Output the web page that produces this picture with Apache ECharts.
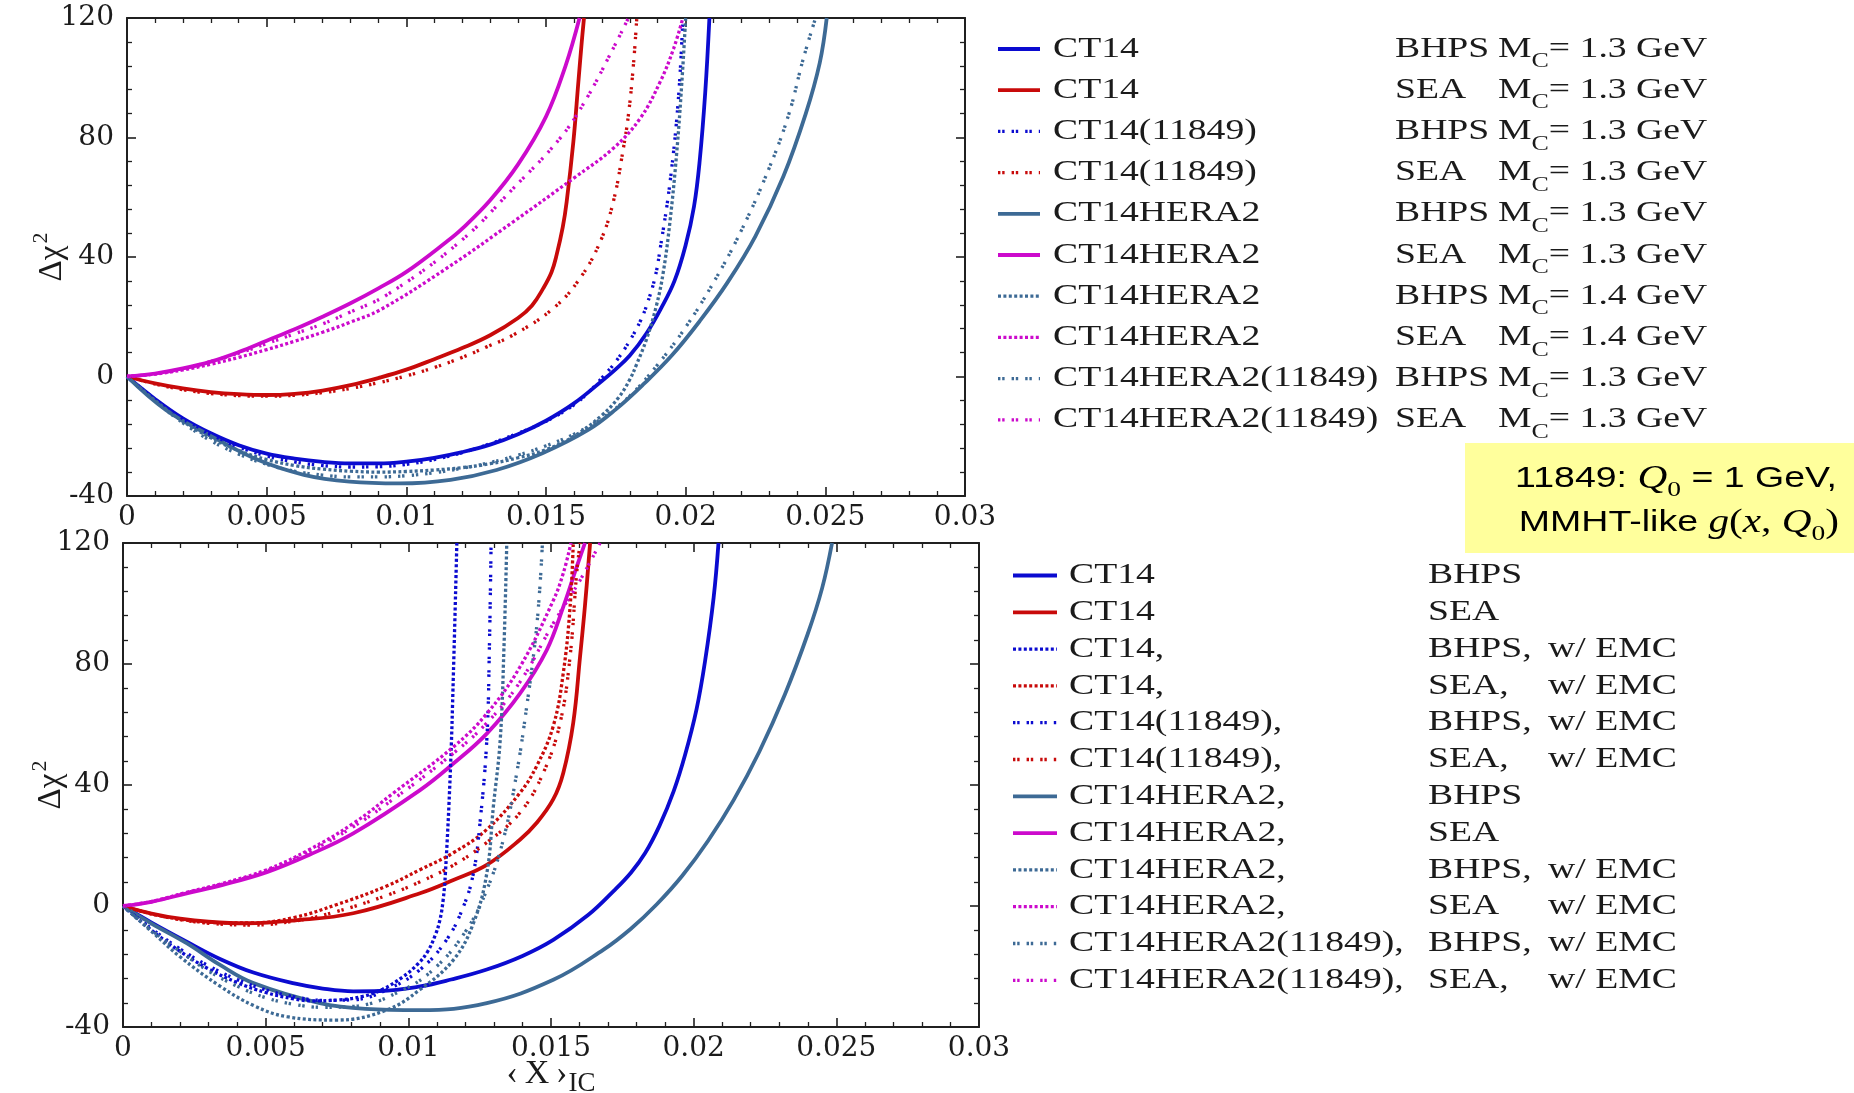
<!DOCTYPE html>
<html>
<head>
<meta charset="utf-8">
<script src="https://cdn.jsdelivr.net/npm/echarts@6/dist/echarts.min.js"></script>
<style>
  html, body { margin: 0; padding: 0; background: #ffffff; }
  #chart { width: 1854px; height: 1093px; }
</style>
</head>
<body>
<div id="chart"></div>
<script>
// ---------------- axis ranges and tick labels ----------------
const xTickValues = [0, 0.005, 0.01, 0.015, 0.02, 0.025, 0.03];
const yTickValues = [-40, 0, 40, 80, 120];

// ---------------- upper panel: Δχ² versus <x>_IC ----------------
const upCt14Bhps13 = [[0,0],[0.001,-7.5],[0.002,-14],[0.003,-19],[0.004,-23],[0.005,-25.8],[0.006,-27.5],[0.007,-28.6],[0.008,-29.1],[0.009,-29.1],[0.010,-28.5],[0.011,-27.2],[0.012,-25.3],[0.013,-22.8],[0.014,-19.3],[0.015,-14.8],[0.016,-9],[0.017,-1.5],[0.0175,2.5],[0.018,7],[0.0186,14.5],[0.0191,22.5],[0.0196,32],[0.0200,44],[0.0203,57],[0.0205,72],[0.0207,95],[0.02085,120]];
const upCt14Sea13 = [[0,0],[0.001,-2.3],[0.002,-4],[0.003,-5.2],[0.004,-5.9],[0.005,-6.2],[0.006,-5.8],[0.007,-4.7],[0.008,-2.9],[0.009,-0.5],[0.010,2.3],[0.011,5.8],[0.012,9.5],[0.013,13.8],[0.014,19.6],[0.0145,23.8],[0.0149,29.5],[0.0152,35],[0.01538,40.7],[0.0156,50],[0.01574,58.5],[0.01598,78.6],[0.01616,98.7],[0.01628,112],[0.01636,120]];
const upCt14q1Bhps13 = [[0,0],[0.001,-7.6],[0.002,-14.3],[0.003,-19.5],[0.004,-23.6],[0.005,-26.6],[0.006,-28.6],[0.007,-29.8],[0.008,-30.3],[0.009,-30.2],[0.010,-29.4],[0.011,-27.8],[0.012,-25.5],[0.013,-22.5],[0.014,-19],[0.015,-15],[0.016,-9.5],[0.0165,-5.5],[0.017,-0.5],[0.0175,5],[0.018,12],[0.0184,19],[0.01861,24],[0.0189,33],[0.01909,42.9],[0.01944,65],[0.01974,93],[0.0199,120]];
const upCt14q1Sea13 = [[0,0],[0.001,-2.5],[0.002,-4.4],[0.003,-5.7],[0.004,-6.4],[0.005,-6.6],[0.006,-6.3],[0.007,-5.4],[0.008,-4],[0.009,-2.1],[0.010,0.2],[0.011,3],[0.012,6.4],[0.0129,10],[0.01383,13.9],[0.01526,22.8],[0.01622,32.9],[0.01694,45.1],[0.01741,58.5],[0.01777,76.4],[0.01795,87.5],[0.01813,104.3],[0.01825,120]];
const upHera2Bhps13 = [[0,0],[0.00139,-11.2],[0.00304,-20.1],[0.00468,-27.9],[0.00633,-32.9],[0.00797,-35.2],[0.00977,-35.8],[0.01158,-34.6],[0.01323,-31.3],[0.01487,-25.7],[0.01651,-17.9],[0.0175,-11],[0.0185,-2.5],[0.0195,7],[0.0205,18.5],[0.0215,31.5],[0.0225,47],[0.0235,67],[0.0243,88],[0.0248,105],[0.02505,120]];
const upHera2Sea13 = [[0,0],[0.001,1],[0.002,2.7],[0.003,5],[0.004,8.2],[0.005,12],[0.006,15.8],[0.007,20],[0.008,24.5],[0.009,29.5],[0.010,35],[0.01144,45.1],[0.012,49.5],[0.013,59],[0.014,71],[0.015,87],[0.0157,104],[0.0162,120]];
const upHera2Bhps14 = [[0,0],[0.001,-8],[0.002,-15],[0.003,-20.5],[0.004,-24.8],[0.005,-27.8],[0.006,-29.8],[0.007,-31],[0.008,-31.7],[0.009,-32],[0.010,-31.8],[0.011,-31.3],[0.012,-30.5],[0.013,-29.2],[0.014,-27.2],[0.015,-24.5],[0.016,-20],[0.017,-13],[0.0176,-7],[0.018,-1],[0.01824,4],[0.0186,12.5],[0.01896,24],[0.0192,35],[0.01944,52],[0.01968,75],[0.01986,98],[0.02,120]];
const upHera2Sea14 = [[0,0],[0.001,0.8],[0.002,2.2],[0.003,4.1],[0.004,6.4],[0.005,9],[0.006,11.8],[0.007,14.8],[0.008,18.2],[0.00906,22.3],[0.01144,36.2],[0.01383,51.8],[0.01598,66.3],[0.01741,76.4],[0.01837,86.4],[0.01909,98.7],[0.01957,109.8],[0.0199,120]];
const upHera2q1Bhps13 = [[0,0],[0.001,-8.2],[0.002,-15.5],[0.003,-21.5],[0.004,-26],[0.005,-29.4],[0.006,-31.7],[0.007,-33],[0.008,-33.6],[0.009,-33.6],[0.010,-33.2],[0.011,-32.2],[0.012,-30.7],[0.013,-28.8],[0.014,-26.3],[0.015,-23.2],[0.016,-19.3],[0.017,-14],[0.018,-6.5],[0.019,4],[0.020,16.5],[0.021,31.5],[0.022,49],[0.023,70],[0.0237,88],[0.0242,106],[0.02465,120]];
const upHera2q1Sea13 = [[0,0],[0.001,0.9],[0.002,2.6],[0.003,5],[0.004,7.8],[0.005,11],[0.006,14.3],[0.007,17.6],[0.008,21.6],[0.0093,27.3],[0.01192,45.1],[0.01383,63],[0.0155,79.7],[0.01645,93],[0.01741,109.9],[0.01795,120]];

// ---------------- lower panel: with EMC correction ----------------
const loCt14Bhps = [[0,0],[0.001,-5.5],[0.00223,-11.8],[0.0034,-17.5],[0.00457,-22],[0.006,-25.6],[0.007,-27.3],[0.00807,-28.2],[0.009,-28.1],[0.01041,-26.6],[0.0115,-24.3],[0.01275,-21],[0.014,-16.5],[0.01508,-11.2],[0.0163,-3],[0.0172,5],[0.0178,11],[0.0183,17.5],[0.0188,26.5],[0.0193,38],[0.0197,50],[0.0201,65],[0.0204,81],[0.0207,102],[0.02087,120]];
const loCt14Sea = [[0,0],[0.001,-2.5],[0.002,-4.2],[0.003,-5.2],[0.00434,-5.7],[0.006,-4.8],[0.00807,-2.4],[0.01041,4.2],[0.01158,8.6],[0.01275,13.6],[0.01391,21.9],[0.0145,27.5],[0.01508,35.3],[0.01543,44],[0.01578,60.6],[0.01602,82.6],[0.01619,99.2],[0.01637,120]];
const loCt14EmcBhps = [[0,0],[0.001,-8],[0.002,-15],[0.003,-20.8],[0.004,-25.3],[0.005,-28.6],[0.006,-30.7],[0.0067,-31.4],[0.0076,-31],[0.0084,-29.9],[0.0091,-27.5],[0.0098,-23.5],[0.01035,-19],[0.01068,-15],[0.01095,-9.5],[0.01111,-4.5],[0.01122,2],[0.0113,10.9],[0.01147,43.9],[0.01158,76.9],[0.0117,120]];
const loCt14EmcSea = [[0,0],[0.001,-2.6],[0.002,-4.4],[0.003,-5.4],[0.0045,-5.6],[0.006,-3.8],[0.0075,0.5],[0.00924,6.6],[0.01041,12],[0.01158,17.6],[0.01275,25.3],[0.01391,37.4],[0.0145,46.3],[0.01508,59.5],[0.01543,77],[0.01567,99],[0.01578,120]];
const loCt14q1EmcBhps = [[0,0],[0.001,-7.5],[0.002,-14.2],[0.003,-19.8],[0.004,-24.3],[0.005,-27.7],[0.006,-30],[0.007,-31.2],[0.00807,-31],[0.00924,-27.7],[0.0104,-21.1],[0.01134,-11.2],[0.01193,-0.2],[0.01228,10.8],[0.01251,27.3],[0.01275,54.9],[0.01284,85],[0.0129,120]];
const loCt14q1EmcSea = [[0,0],[0.001,-2.6],[0.002,-4.5],[0.003,-5.7],[0.0045,-6.3],[0.006,-5],[0.0075,-1.8],[0.00924,3.5],[0.01041,8],[0.01158,13.5],[0.01275,21],[0.01391,30.8],[0.01473,44],[0.01532,60.6],[0.01567,82.6],[0.0159,110],[0.01602,120]];
const loHera2Bhps = [[0,0],[0.001,-5.8],[0.00223,-12.3],[0.0034,-19.5],[0.00457,-25.5],[0.0069,-32.1],[0.0085,-34],[0.01041,-34.4],[0.01275,-32.1],[0.01508,-24.4],[0.01683,-14.5],[0.0178,-7.5],[0.0187,0.5],[0.0196,10],[0.0205,21.5],[0.0214,35],[0.0223,51],[0.0232,70],[0.024,90],[0.0245,105],[0.02485,120]];
const loHera2Sea = [[0,0],[0.001,1.4],[0.00223,4.2],[0.0035,7],[0.00504,11.2],[0.0065,16.8],[0.00807,24],[0.01041,38.3],[0.01158,47.1],[0.01275,57],[0.01391,70.2],[0.01485,84.6],[0.01543,98.9],[0.0159,112.1],[0.01619,120]];
const loHera2EmcBhps = [[0,0],[0.00107,-9],[0.002,-16.8],[0.0034,-26.5],[0.0046,-33],[0.00574,-36.6],[0.00749,-37.7],[0.00924,-34.4],[0.0104,-27.7],[0.01158,-17.8],[0.01228,-5.7],[0.01275,10.8],[0.01298,32.9],[0.01322,54.9],[0.01335,85],[0.01345,120]];
const loHera2EmcSea = [[0,0],[0.001,1.5],[0.00223,4.5],[0.0035,7.5],[0.00504,12],[0.0065,18.5],[0.00807,27.3],[0.0095,37.5],[0.01158,52.6],[0.01275,63.6],[0.01391,79],[0.01508,101],[0.01543,110],[0.0157,120]];
const loHera2q1EmcBhps = [[0,0],[0.001,-8],[0.002,-15],[0.003,-21.5],[0.004,-26.5],[0.005,-30.3],[0.006,-32.5],[0.007,-33.5],[0.00807,-33.2],[0.00982,-27.7],[0.01099,-20],[0.01204,-7.9],[0.01275,5.3],[0.01333,22],[0.0138,44],[0.01415,66],[0.01445,88],[0.0146,104],[0.0147,120]];
const loHera2q1EmcSea = [[0,0],[0.001,1.4],[0.00223,4.4],[0.0035,7.3],[0.00504,11.6],[0.0065,17.8],[0.00807,26.2],[0.0095,35.5],[0.01158,50.5],[0.01275,60.5],[0.01391,74],[0.01508,93.4],[0.01602,107.7],[0.01672,120]];

// ---------------- styling ----------------
const INK = '#1b1b1b';
const SERIF = '"Liberation Serif", "Times New Roman", serif';
const WIDE_SERIF = '"DejaVu Serif", "Liberation Serif", serif';
const SANS = '"Liberation Sans", Arial, sans-serif';
const BLUE = '#0b0bd0', RED = '#c80a0a', MAGENTA = '#cc0acc', STEEL = '#3d6a95';
const STROKES = {
  solid:  { type: 'solid', width: 3.8 },
  dense:  { type: [3, 2.4], width: 3.3 },
  sparse: { type: [2.4, 1.8, 2.4, 7], width: 3.3 }
};
const TEXT_STRETCH = 1.3;

// curve list for each panel, in legend order
const upperCurves = [
  { data: upCt14Bhps13,    color: BLUE,    stroke: 'solid',  pdf: 'CT14',             model: 'BHPS', mass: '1.3' },
  { data: upCt14Sea13,     color: RED,     stroke: 'solid',  pdf: 'CT14',             model: 'SEA',  mass: '1.3' },
  { data: upCt14q1Bhps13,  color: BLUE,    stroke: 'sparse', pdf: 'CT14(11849)',      model: 'BHPS', mass: '1.3' },
  { data: upCt14q1Sea13,   color: RED,     stroke: 'sparse', pdf: 'CT14(11849)',      model: 'SEA',  mass: '1.3' },
  { data: upHera2Bhps13,   color: STEEL,   stroke: 'solid',  pdf: 'CT14HERA2',        model: 'BHPS', mass: '1.3' },
  { data: upHera2Sea13,    color: MAGENTA, stroke: 'solid',  pdf: 'CT14HERA2',        model: 'SEA',  mass: '1.3' },
  { data: upHera2Bhps14,   color: STEEL,   stroke: 'dense',  pdf: 'CT14HERA2',        model: 'BHPS', mass: '1.4' },
  { data: upHera2Sea14,    color: MAGENTA, stroke: 'dense',  pdf: 'CT14HERA2',        model: 'SEA',  mass: '1.4' },
  { data: upHera2q1Bhps13, color: STEEL,   stroke: 'sparse', pdf: 'CT14HERA2(11849)', model: 'BHPS', mass: '1.3' },
  { data: upHera2q1Sea13,  color: MAGENTA, stroke: 'sparse', pdf: 'CT14HERA2(11849)', model: 'SEA',  mass: '1.3' }
];
const lowerCurves = [
  { data: loCt14Bhps,       color: BLUE,    stroke: 'solid',  pdf: 'CT14',               model: 'BHPS',  emc: '' },
  { data: loCt14Sea,        color: RED,     stroke: 'solid',  pdf: 'CT14',               model: 'SEA',   emc: '' },
  { data: loCt14EmcBhps,    color: BLUE,    stroke: 'dense',  pdf: 'CT14,',              model: 'BHPS,', emc: 'w/ EMC' },
  { data: loCt14EmcSea,     color: RED,     stroke: 'dense',  pdf: 'CT14,',              model: 'SEA,',  emc: 'w/ EMC' },
  { data: loCt14q1EmcBhps,  color: BLUE,    stroke: 'sparse', pdf: 'CT14(11849),',       model: 'BHPS,', emc: 'w/ EMC' },
  { data: loCt14q1EmcSea,   color: RED,     stroke: 'sparse', pdf: 'CT14(11849),',       model: 'SEA,',  emc: 'w/ EMC' },
  { data: loHera2Bhps,      color: STEEL,   stroke: 'solid',  pdf: 'CT14HERA2,',         model: 'BHPS',  emc: '' },
  { data: loHera2Sea,       color: MAGENTA, stroke: 'solid',  pdf: 'CT14HERA2,',         model: 'SEA',   emc: '' },
  { data: loHera2EmcBhps,   color: STEEL,   stroke: 'dense',  pdf: 'CT14HERA2,',         model: 'BHPS,', emc: 'w/ EMC' },
  { data: loHera2EmcSea,    color: MAGENTA, stroke: 'dense',  pdf: 'CT14HERA2,',         model: 'SEA',   emc: 'w/ EMC' },
  { data: loHera2q1EmcBhps, color: STEEL,   stroke: 'sparse', pdf: 'CT14HERA2(11849),',  model: 'BHPS,', emc: 'w/ EMC' },
  { data: loHera2q1EmcSea,  color: MAGENTA, stroke: 'sparse', pdf: 'CT14HERA2(11849),',  model: 'SEA,',  emc: 'w/ EMC' }
];

// ---------------- axes ----------------
const AXIS_COLOR = '#202020';
function xAxisFor(gridIndex, position, withLabels) {
  return {
    type: 'value', gridIndex, position,
    min: xTickValues[0], max: xTickValues[xTickValues.length - 1], interval: 0.005,
    nameMoveOverlap: false,
    axisLine: { show: true, onZero: false, lineStyle: { color: AXIS_COLOR, width: 2 } },
    axisTick: { show: true, inside: true, length: 9, lineStyle: { color: AXIS_COLOR, width: 1.6 } },
    minorTick: { show: true, splitNumber: 5, length: 5, lineStyle: { color: AXIS_COLOR, width: 1.3 } },
    splitLine: { show: false }, minorSplitLine: { show: false },
    axisLabel: {
      show: withLabels, margin: 8, color: INK, fontFamily: WIDE_SERIF, fontSize: 28,
      formatter: v => String(+v.toFixed(3))
    }
  };
}
function yAxisFor(gridIndex, position, withLabels, nameGap) {
  return {
    type: 'value', gridIndex, position,
    min: yTickValues[0], max: yTickValues[yTickValues.length - 1], interval: 40,
    nameMoveOverlap: false,
    axisLine: { show: true, onZero: false, lineStyle: { color: AXIS_COLOR, width: 2 } },
    axisTick: { show: true, inside: true, length: 9, lineStyle: { color: AXIS_COLOR, width: 1.6 } },
    minorTick: { show: true, splitNumber: 5, length: 5, lineStyle: { color: AXIS_COLOR, width: 1.3 } },
    splitLine: { show: false }, minorSplitLine: { show: false },
    axisLabel: { show: withLabels, margin: 13, color: INK, fontFamily: WIDE_SERIF, fontSize: 28 },
    name: withLabels ? '{a|Δχ}{s|2}' : '',
    nameLocation: 'middle', nameGap: nameGap, nameRotate: 90,
    nameTextStyle: {
      color: INK, fontFamily: SERIF, fontSize: 32,
      rich: {
        a: { fontFamily: SERIF, fontSize: 33, color: INK },
        s: { fontFamily: SERIF, fontSize: 22, color: INK, padding: [0, 0, 22, 2] }
      }
    }
  };
}

const xAxes = [xAxisFor(0, 'bottom', true), xAxisFor(0, 'top', false), xAxisFor(1, 'bottom', true), xAxisFor(1, 'top', false)];
xAxes[2].name = '{a|‹\u2009X\u2009›}{s|IC}';
xAxes[2].nameLocation = 'middle';
xAxes[2].nameGap = 25;
xAxes[2].nameTextStyle = {
  color: INK, fontFamily: SERIF,
  rich: {
    a: { fontFamily: SERIF, fontSize: 34, color: INK },
    s: { fontFamily: SERIF, fontSize: 27, color: INK, padding: [18, 0, 0, 1] }
  }
};
const yAxes = [yAxisFor(0, 'left', true, 53), yAxisFor(0, 'right', false, 0), yAxisFor(1, 'left', true, 50), yAxisFor(1, 'right', false, 0)];

// ---------------- series ----------------
function toSeries(curve, panel, i) {
  const st = STROKES[curve.stroke];
  return {
    type: 'line', name: (panel ? 'lower-' : 'upper-') + i,
    xAxisIndex: panel * 2, yAxisIndex: panel * 2,
    data: curve.data, showSymbol: false, symbol: 'none',
    smooth: 0.4, clip: true, silent: true,
    lineStyle: { color: curve.color, width: st.width, type: st.type, cap: 'butt' },
    z: curve.stroke === 'solid' ? 3 : 4
  };
}
const series = [
  ...upperCurves.map((c, i) => toSeries(c, 0, i)),
  ...lowerCurves.map((c, i) => toSeries(c, 1, i))
];

// ---------------- legends (drawn as graphic rows) ----------------
function stretchedText(x, y, text, extra) {
  return Object.assign({
    type: 'text', x, y, scaleX: TEXT_STRETCH, silent: true,
    style: { text, fill: INK, fontFamily: SERIF, fontSize: 29, align: 'left', verticalAlign: 'middle' }
  }, extra || {});
}
function sampleLine(x1, x2, y, curve) {
  const st = STROKES[curve.stroke];
  return {
    type: 'line', silent: true,
    shape: { x1, y1: y, x2, y2: y },
    style: { stroke: curve.color, lineWidth: st.width, lineDash: Array.isArray(st.type) ? st.type : null }
  };
}
const graphics = [];
upperCurves.forEach((c, i) => {
  const y = 49 + i * 41.2;
  graphics.push(sampleLine(998, 1040, y, c));
  graphics.push(stretchedText(1053, y, c.pdf));
  graphics.push(stretchedText(1395, y, c.model));
  const t = stretchedText(1498, y, 'M{c|C}= ' + c.mass + ' GeV');
  t.style.rich = { c: { fontFamily: SERIF, fontSize: 20, fill: INK, padding: [26, 0, 0, 0] } };
  graphics.push(t);
});
lowerCurves.forEach((c, i) => {
  const y = 575.5 + i * 36.8;
  graphics.push(sampleLine(1013, 1057, y, c));
  graphics.push(stretchedText(1069, y, c.pdf));
  graphics.push(stretchedText(1428, y, c.model));
  if (c.emc) graphics.push(stretchedText(1548, y, c.emc));
});

// note box on the right
graphics.push({ type: 'rect', silent: true, shape: { x: 1465, y: 443, width: 389, height: 110 }, style: { fill: '#ffff9c' } });
const noteRich = {
  s: { fontFamily: SANS, fontSize: 30, fill: '#000' },
  i: { fontFamily: SERIF, fontStyle: 'italic', fontSize: 33, fill: '#000' },
  p: { fontFamily: SERIF, fontSize: 33, fill: '#000' },
  z: { fontFamily: SERIF, fontSize: 22, fill: '#000', padding: [22, 0, 0, 0] }
};
graphics.push({
  type: 'text', x: 1837, y: 479, scaleX: 1.25, silent: true,
  style: { text: '{s|11849: }{i|Q}{z|0}{s| = 1 GeV,}', align: 'right', verticalAlign: 'middle', rich: noteRich }
});
graphics.push({
  type: 'text', x: 1839, y: 523, scaleX: 1.25, silent: true,
  style: { text: '{s|MMHT-like }{i|g}{p|(}{i|x}{p|, }{i|Q}{z|0}{p|)}', align: 'right', verticalAlign: 'middle', rich: noteRich }
});

// ---------------- chart ----------------
const chart = echarts.init(document.getElementById('chart'), null, { renderer: 'canvas' });
chart.setOption({
  animation: false,
  backgroundColor: '#ffffff',
  textStyle: { fontFamily: SERIF },
  grid: [
    { left: 127, top: 18, width: 838, height: 478, containLabel: false, outerBoundsMode: 'none', show: false },
    { left: 123, top: 543, width: 856, height: 484, containLabel: false, outerBoundsMode: 'none', show: false }
  ],
  xAxis: xAxes,
  yAxis: yAxes,
  series,
  graphic: { elements: graphics }
});
</script>
</body>
</html>
